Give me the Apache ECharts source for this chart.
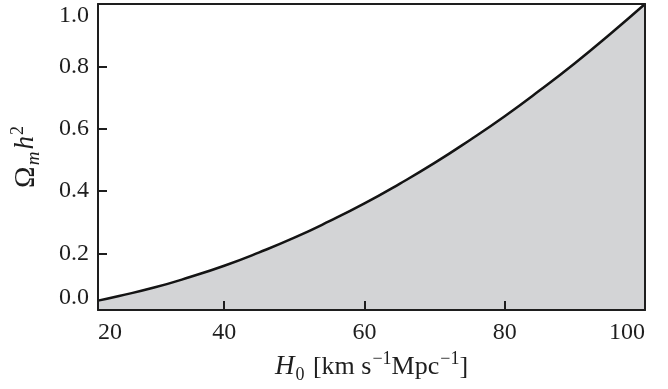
<!DOCTYPE html>
<html>
<head>
<meta charset="utf-8">
<script src="https://cdn.jsdelivr.net/npm/echarts@6/dist/echarts.min.js"></script>
<style>
  html, body { margin: 0; padding: 0; background: #fff; }
  #chart-container { width: 668px; height: 389px; }
</style>
</head>
<body>
<div id="chart-container"></div>
<script>
// H0 values along the curve and Omega_m h^2
const h0Values = [22, 25, 30, 35, 40, 45, 50, 55, 60, 65, 70, 75, 80, 85, 90, 95, 100];
const omegaH2 = [0.048, 0.063, 0.09, 0.123, 0.16, 0.203, 0.25, 0.303, 0.36, 0.423, 0.49, 0.563, 0.64, 0.723, 0.81, 0.903, 1.0];

// tick positions and their labels (edge labels sit at the axis ends)
const xTickValues = [22, 40, 60, 80, 100];
const xTickLabels = ["20", "40", "60", "80", "100"];
const yTickValues = [0.018, 0.2, 0.4, 0.6, 0.8, 1.0];
const yTickLabels = ["0.0", "0.2", "0.4", "0.6", "0.8", "1.0"];

const chart = echarts.init(document.getElementById("chart-container"));

const axisColor = "#1e1e1e";
const font = "'Liberation Serif', 'DejaVu Serif', serif";

const richBase = {
    r: { fontFamily: font, fontSize: 26, color: "#1e1e1e", lineHeight: 34, verticalAlign: "middle" },
    big: { fontFamily: font, fontSize: 29, color: "#1e1e1e", lineHeight: 34, verticalAlign: "middle" },
    i: { fontFamily: font, fontSize: 27, fontStyle: "italic", color: "#1e1e1e", lineHeight: 34, verticalAlign: "middle" },
    sub: { fontFamily: font, fontSize: 19, fontStyle: "italic", color: "#1e1e1e", lineHeight: 34, verticalAlign: "bottom", padding: [0, 2, 0, 1] },
    subr: { fontFamily: font, fontSize: 18, color: "#1e1e1e", lineHeight: 34, verticalAlign: "bottom", padding: [0, 2, 0, 1] },
    sup: { fontFamily: font, fontSize: 18, color: "#1e1e1e", lineHeight: 34, verticalAlign: "top", padding: [0, 0, 0, 1] }
};

const options = {
    animation: false,
    grid: {
        left: 98,
        right: 23,
        top: 4,
        bottom: 79,
        containLabel: false
    },
    xAxis: [
        {
            type: "value",
            min: 22,
            max: 100,
            name: "{i|H}{subr|0}{r| [km s}{sup|−1}{r|Mpc}{sup|−1}{r|]}",
            nameLocation: "middle",
            nameGap: 38,
            nameTextStyle: { rich: richBase },
            axisLine: { show: true, onZero: false, lineStyle: { color: axisColor, width: 2 } },
            axisTick: { show: true, inside: true, length: 9, customValues: xTickValues, lineStyle: { color: axisColor, width: 2 } },
            axisLabel: {
                customValues: xTickValues,
                formatter: (v) => xTickLabels[xTickValues.indexOf(v)],
                fontFamily: font,
                fontSize: 24,
                color: "#1e1e1e",
                margin: 11,
                alignMinLabel: "left",
                alignMaxLabel: "right"
            },
            splitLine: { show: false },
            z: 10
        },
        {
            type: "value",
            position: "top",
            min: 22,
            max: 100,
            axisLine: { show: true, onZero: false, lineStyle: { color: axisColor, width: 2 } },
            axisTick: { show: false },
            axisLabel: { show: false },
            splitLine: { show: false },
            z: 10
        }
    ],
    yAxis: [
        {
            type: "value",
            min: 0.018,
            max: 1.0,
            name: "{big|Ω}{sub|m}{i|h}{sup|2}",
            nameLocation: "middle",
            nameRotate: 90,
            nameGap: 55,
            nameTextStyle: { rich: richBase },
            axisLine: { show: true, onZero: false, lineStyle: { color: axisColor, width: 2 } },
            axisTick: { show: true, inside: true, length: 9, customValues: yTickValues, lineStyle: { color: axisColor, width: 2 } },
            axisLabel: {
                customValues: yTickValues,
                formatter: (v) => yTickLabels[yTickValues.indexOf(v)],
                fontFamily: font,
                fontSize: 24,
                color: "#1e1e1e",
                margin: 9,
                verticalAlignMinLabel: "bottom",
                verticalAlignMaxLabel: "top"
            },
            splitLine: { show: false },
            z: 10
        },
        {
            type: "value",
            position: "right",
            min: 0.018,
            max: 1.0,
            axisLine: { show: true, onZero: false, lineStyle: { color: axisColor, width: 2 } },
            axisTick: { show: false },
            axisLabel: { show: false },
            splitLine: { show: false },
            z: 10
        }
    ],
    series: [
        {
            name: "Omega_m h^2",
            type: "line",
            xAxisIndex: 0,
            yAxisIndex: 0,
            data: h0Values.map((x, i) => [x, omegaH2[i]]),
            smooth: true,
            showSymbol: false,
            lineStyle: { color: "#141414", width: 2.5 },
            areaStyle: { color: "#d3d4d6", opacity: 1, origin: "start" }
        }
    ]
};

chart.setOption(options);
</script>
</body>
</html>
